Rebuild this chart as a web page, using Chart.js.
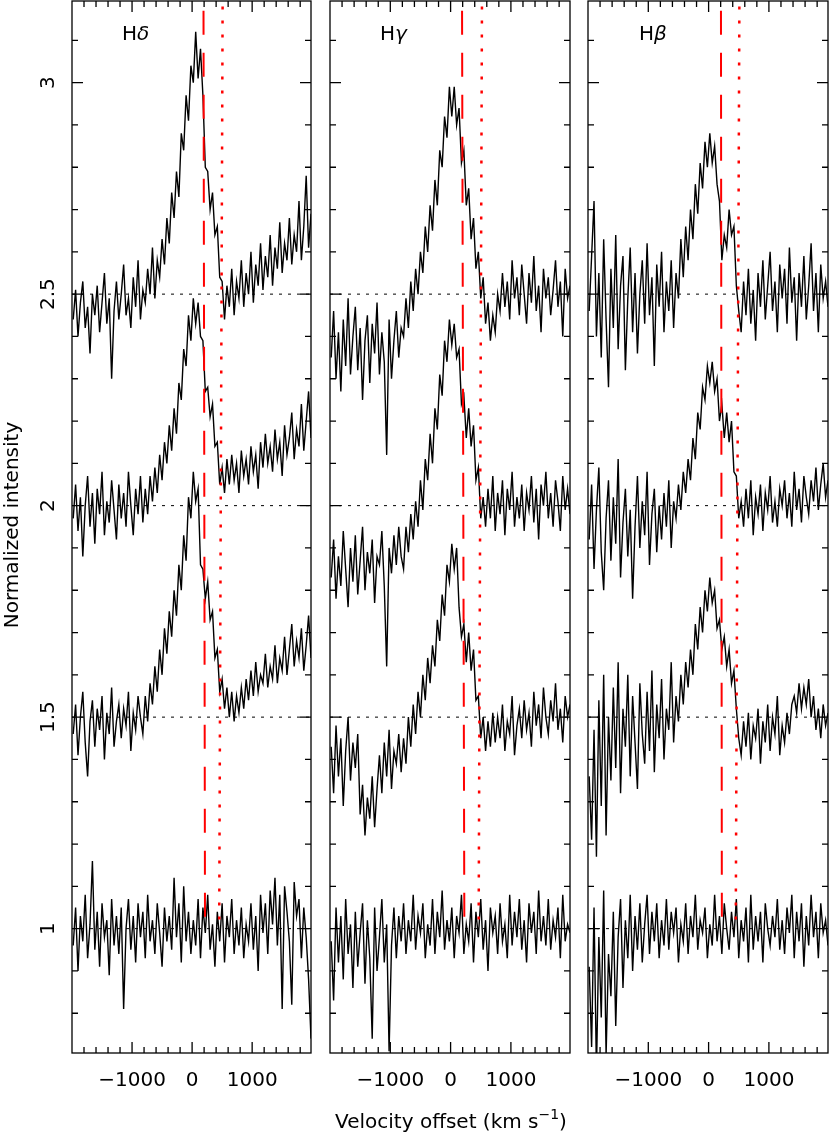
<!DOCTYPE html>
<html><head><meta charset="utf-8">
<script src="https://cdn.jsdelivr.net/npm/chart.js@4.4.0/dist/chart.umd.min.js"></script>
<style>
html,body{margin:0;padding:0;background:#fff;}
#wrap{position:relative;width:830px;height:1141px;}
#wrap canvas{position:absolute;left:0;top:0;}
</style></head><body>
<div id="wrap">
<canvas id="pd" width="830" height="1141"></canvas>
<canvas id="pg" width="830" height="1141"></canvas>
<canvas id="pb" width="830" height="1141"></canvas>
</div>
<script>
// velocity grid: one sample every 40 km/s starting at -1980
var velStart = -1980, velStep = 40;

// continuum levels of the offset spectra
var levels = [2.5, 2.0, 1.5, 1.0];

// tick values
var xMajor = [-1000, 0, 1000];
var xMinor = [-1800,-1600,-1400,-1200,-800,-600,-400,-200,200,400,600,800,1200,1400,1600,1800];
var yMajor = [1, 1.5, 2, 2.5, 3];
var yMinor = [0.8,0.9,1.1,1.2,1.3,1.4,1.6,1.7,1.8,1.9,2.1,2.2,2.3,2.4,2.6,2.7,2.8,2.9,3.1];

// red reference lines (velocity at top / bottom end), per panel d, g, b
var dashTop = [190, 190, 205], dashBottom = [215, 228, 220];
var dotTop = [508, 520, 510], dotBottom = [451, 465, 450];
var redTopY = 3.17, redBottomY = 1.0;

// H delta
var hd1 = [2.44,2.51,2.40,2.48,2.53,2.42,2.47,2.36,2.50,2.45,
           2.52,2.41,2.48,2.55,2.43,2.49,2.30,2.46,2.53,2.44,
           2.50,2.57,2.45,2.49,2.42,2.54,2.47,2.58,2.44,2.51,
           2.48,2.56,2.50,2.61,2.49,2.58,2.54,2.63,2.57,2.68,
           2.62,2.74,2.68,2.79,2.73,2.88,2.84,2.97,2.91,3.04,
           3.00,3.12,3.01,3.08,2.97,2.80,2.79,2.70,2.74,2.64,
           2.66,2.54,2.53,2.44,2.52,2.47,2.56,2.45,2.53,2.49,
           2.58,2.47,2.55,2.50,2.60,2.48,2.57,2.52,2.62,2.51,
           2.59,2.54,2.64,2.52,2.61,2.56,2.67,2.55,2.62,2.58,
           2.68,2.57,2.64,2.60,2.72,2.58,2.66,2.78,2.61,2.69];
var hd2 = [1.97,2.05,1.94,2.02,1.88,2.00,2.07,1.95,2.03,1.91,
           2.04,1.98,2.08,1.93,2.01,1.96,2.06,1.99,1.92,2.05,
           1.97,2.03,1.95,2.08,2.00,1.93,2.04,1.98,2.07,1.96,
           2.04,1.98,2.07,2.01,2.09,2.03,2.12,2.06,2.15,2.10,
           2.19,2.13,2.23,2.17,2.29,2.25,2.37,2.33,2.45,2.39,
           2.49,2.43,2.48,2.40,2.39,2.27,2.28,2.21,2.24,2.14,
           2.15,2.05,2.09,2.03,2.11,2.05,2.12,2.06,2.10,2.03,
           2.13,2.07,2.11,2.05,2.14,2.08,2.12,2.04,2.15,2.09,
           2.17,2.10,2.14,2.08,2.18,2.11,2.15,2.07,2.19,2.12,
           2.16,2.22,2.11,2.18,2.14,2.24,2.13,2.20,2.27,2.16];
var hd3 = [1.46,1.53,1.41,1.50,1.56,1.44,1.36,1.49,1.54,1.43,
           1.52,1.47,1.55,1.40,1.51,1.46,1.57,1.43,1.49,1.53,
           1.45,1.52,1.48,1.56,1.42,1.51,1.47,1.55,1.50,1.46,
           1.55,1.49,1.58,1.53,1.62,1.56,1.66,1.60,1.71,1.65,
           1.75,1.69,1.80,1.74,1.86,1.80,1.93,1.87,2.02,1.97,
           2.08,2.01,2.04,1.86,1.85,1.78,1.82,1.73,1.75,1.64,
           1.66,1.56,1.59,1.52,1.57,1.50,1.56,1.49,1.55,1.51,
           1.57,1.52,1.59,1.54,1.61,1.55,1.63,1.56,1.60,1.58,
           1.65,1.57,1.62,1.59,1.67,1.58,1.64,1.61,1.69,1.60,
           1.66,1.72,1.62,1.68,1.64,1.71,1.61,1.67,1.74,1.64];
var hd4 = [0.96,1.05,0.90,1.03,0.97,1.08,0.93,1.01,1.16,0.95,
           1.04,0.91,1.06,0.98,1.02,0.89,1.07,0.96,1.03,0.94,
           1.05,0.81,1.00,1.07,0.95,1.03,0.92,1.06,0.98,1.04,
           0.93,1.08,0.97,1.02,0.94,1.06,0.99,0.91,1.05,0.97,
           1.03,0.95,1.12,0.98,1.06,0.92,1.10,0.97,1.04,0.94,
           1.02,0.96,1.07,0.93,1.05,0.99,1.08,0.95,1.01,0.91,
           1.04,0.97,1.06,0.92,1.03,0.98,1.07,0.94,1.02,0.96,
           1.05,0.93,1.01,0.97,1.06,0.95,1.03,0.90,1.08,0.99,
           1.06,0.94,1.09,1.01,1.12,0.96,1.08,0.81,1.10,1.04,
           0.97,0.82,1.11,1.03,1.07,0.93,1.05,0.98,0.88,0.74];

// H gamma
var hg1 = [2.35,2.46,2.30,2.41,2.27,2.44,2.33,2.49,2.31,2.40,
           2.47,2.32,2.42,2.25,2.39,2.45,2.29,2.43,2.36,2.48,
           2.31,2.41,2.34,2.12,2.44,2.30,2.39,2.46,2.35,2.42,
           2.40,2.49,2.42,2.53,2.46,2.56,2.50,2.60,2.55,2.66,
           2.60,2.71,2.65,2.77,2.71,2.84,2.80,2.92,2.87,2.99,
           2.92,2.99,2.90,2.94,2.81,2.84,2.71,2.75,2.63,2.68,
           2.56,2.60,2.49,2.54,2.43,2.48,2.39,2.45,2.41,2.50,
           2.46,2.55,2.47,2.53,2.44,2.58,2.49,2.54,2.45,2.57,
           2.50,2.43,2.55,2.48,2.59,2.46,2.52,2.41,2.56,2.49,
           2.54,2.45,2.51,2.58,2.47,2.53,2.40,2.56,2.49,2.52];
var hg2 = [1.83,1.92,1.78,1.88,1.81,1.94,1.85,1.76,1.90,1.82,
           1.93,1.79,1.87,1.95,1.80,1.89,1.84,1.92,1.77,1.88,
           1.86,1.94,1.81,1.62,1.90,1.84,1.93,1.86,1.95,1.88,
           1.85,1.95,1.89,1.98,1.92,2.01,1.95,2.06,1.99,2.11,
           2.06,2.17,2.10,2.23,2.18,2.31,2.26,2.39,2.34,2.44,
           2.38,2.43,2.35,2.37,2.24,2.26,2.16,2.23,2.14,2.19,
           2.06,2.09,1.97,2.02,1.95,2.04,1.97,2.07,1.94,2.03,
           1.98,2.06,1.93,2.04,1.99,2.08,1.95,2.02,1.97,2.05,
           1.94,2.03,1.99,2.07,1.96,2.04,1.92,2.05,2.00,2.08,
           1.97,2.03,1.95,2.06,2.01,1.94,2.07,1.99,2.04,1.98];
var hg3 = [1.43,1.32,1.48,1.36,1.45,1.29,1.42,1.50,1.35,1.44,
           1.38,1.46,1.27,1.34,1.22,1.31,1.26,1.36,1.24,1.33,
           1.41,1.32,1.44,1.36,1.47,1.33,1.42,1.39,1.46,1.37,
           1.45,1.39,1.50,1.43,1.53,1.46,1.56,1.50,1.60,1.54,
           1.64,1.58,1.67,1.62,1.73,1.68,1.79,1.74,1.86,1.82,
           1.91,1.85,1.90,1.76,1.69,1.72,1.63,1.70,1.61,1.66,
           1.54,1.55,1.45,1.50,1.42,1.49,1.43,1.51,1.44,1.50,
           1.45,1.53,1.42,1.49,1.46,1.55,1.41,1.48,1.52,1.45,
           1.54,1.47,1.51,1.43,1.56,1.48,1.53,1.45,1.57,1.50,
           1.46,1.54,1.49,1.58,1.47,1.52,1.44,1.55,1.50,1.53];
var hg4 = [0.97,0.83,1.05,0.92,1.03,0.88,1.07,0.94,1.01,0.86,
           1.04,0.91,0.99,1.06,0.87,1.02,0.93,0.74,1.05,0.90,
           0.98,1.07,0.92,1.01,0.71,0.96,1.05,0.93,1.03,0.97,
           1.06,0.94,1.02,0.97,1.08,0.95,1.03,0.99,1.06,0.93,
           1.01,0.96,1.07,0.94,1.04,0.98,1.09,0.95,1.02,0.97,
           1.05,0.93,1.03,0.99,1.08,0.94,1.01,0.97,1.06,0.92,
           1.04,0.98,1.07,0.95,1.02,0.90,1.05,0.99,1.03,0.94,
           1.06,0.97,1.01,0.93,1.08,0.96,1.04,0.98,1.07,0.95,
           1.02,0.92,1.06,0.99,1.04,0.94,1.09,0.97,1.03,0.96,
           1.07,0.95,1.02,0.98,1.05,0.93,1.08,0.97,1.01,0.99];

// H beta
var hb1 = [2.46,2.59,2.72,2.40,2.55,2.35,2.63,2.44,2.28,2.56,
           2.42,2.64,2.37,2.52,2.59,2.32,2.49,2.61,2.41,2.55,
           2.36,2.50,2.58,2.43,2.62,2.45,2.54,2.33,2.57,2.47,
           2.60,2.41,2.53,2.46,2.58,2.42,2.55,2.49,2.63,2.54,
           2.66,2.58,2.70,2.63,2.76,2.69,2.81,2.75,2.86,2.80,
           2.88,2.81,2.85,2.76,2.72,2.58,2.64,2.61,2.70,2.64,
           2.66,2.52,2.46,2.41,2.53,2.45,2.56,2.43,2.51,2.39,
           2.55,2.47,2.58,2.44,2.52,2.60,2.46,2.53,2.41,2.57,
           2.49,2.56,2.43,2.61,2.48,2.54,2.39,2.55,2.47,2.59,
           2.44,2.52,2.62,2.46,2.55,2.41,2.57,2.49,2.53,2.47];
var hb2 = [1.92,2.05,1.85,1.99,2.09,1.89,1.80,1.97,2.06,1.87,
           2.02,1.91,2.11,1.83,1.96,2.04,1.88,1.99,1.78,1.95,
           2.07,1.90,2.01,1.93,2.08,1.86,1.98,2.04,1.89,2.00,
           1.92,2.03,1.95,2.06,1.90,2.01,1.97,2.05,1.99,2.08,
           2.03,2.11,2.06,2.16,2.11,2.22,2.18,2.28,2.25,2.33,
           2.29,2.34,2.27,2.30,2.20,2.24,2.16,2.22,2.15,2.20,
           2.08,2.07,1.97,2.01,1.95,2.04,1.97,2.06,1.93,2.02,
           1.98,2.05,1.94,2.03,1.99,2.07,1.96,2.01,1.95,2.04,
           2.00,2.06,1.97,2.03,1.95,2.08,1.99,2.04,1.96,2.07,
           2.02,1.98,2.06,2.01,2.09,1.99,2.05,2.10,2.02,2.06];
var hb3 = [1.36,1.21,1.47,1.17,1.54,1.29,1.60,1.22,1.50,1.35,
           1.57,1.38,1.63,1.32,1.52,1.43,1.60,1.36,1.55,1.44,
           1.33,1.58,1.46,1.39,1.56,1.42,1.61,1.37,1.53,1.45,
           1.59,1.40,1.52,1.47,1.63,1.44,1.55,1.49,1.60,1.53,
           1.63,1.57,1.66,1.60,1.72,1.66,1.76,1.70,1.80,1.75,
           1.83,1.77,1.80,1.71,1.73,1.66,1.69,1.62,1.66,1.58,
           1.61,1.52,1.45,1.41,1.49,1.43,1.51,1.40,1.48,1.45,
           1.52,1.39,1.49,1.44,1.53,1.42,1.50,1.46,1.55,1.41,
           1.48,1.44,1.51,1.46,1.53,1.55,1.51,1.58,1.52,1.57,
           1.53,1.59,1.50,1.55,1.47,1.52,1.45,1.53,1.48,1.51];
var hb4 = [0.91,0.72,1.05,0.66,0.98,0.79,1.09,0.70,0.94,0.84,
           1.04,0.77,0.98,1.07,0.86,1.02,0.93,1.08,0.90,1.03,
           0.95,1.06,0.92,1.01,1.08,0.94,1.04,0.97,1.06,0.93,
           1.02,0.96,1.07,0.95,1.04,0.99,1.05,0.92,1.01,0.97,
           1.06,0.94,1.03,0.98,1.08,0.95,1.02,0.99,1.05,0.93,
           1.01,0.96,1.08,0.97,1.03,0.94,1.06,1.00,0.95,1.04,
           0.98,1.07,0.93,1.02,0.97,1.05,0.92,1.08,0.95,1.03,
           0.97,1.04,0.92,1.06,1.00,0.96,1.03,0.98,1.07,0.95,
           1.02,0.94,1.05,0.99,1.08,0.93,1.04,0.97,1.06,0.91,
           1.03,0.96,1.08,0.98,1.04,0.93,1.06,0.99,1.02,0.96];

var FONT = 'DejaVu Sans';
var xMin = -2000, xMax = 1980, yMin = 0.706, yMax = 3.193;

function pts(arr) {
  return arr.map(function (v, i) { return { x: velStart + i * velStep, y: v }; });
}

function capText(ctx, parts, x, y, align) {
  // parts: [text, font, dy]
  var w = 0;
  parts.forEach(function (p) { ctx.font = p[1]; w += ctx.measureText(p[0]).width; });
  var cx = align === 'center' ? x - w / 2 : x;
  parts.forEach(function (p) {
    ctx.font = p[1];
    ctx.fillText(p[0], cx, y + (p[2] || 0));
    cx += ctx.measureText(p[0]).width;
  });
}

var framePlugin = {
  id: 'frame',
  afterDraw: function (chart) {
    var o = chart.options.plugins.frame;
    var ctx = chart.ctx, a = chart.chartArea, xs = chart.scales.x, ys = chart.scales.y;
    ctx.save();
    ctx.strokeStyle = '#000';
    ctx.lineWidth = 1.3;
    ctx.strokeRect(a.left, a.top, a.right - a.left, a.bottom - a.top);
    ctx.beginPath();
    function xt(v, len) {
      var p = xs.getPixelForValue(v);
      ctx.moveTo(p, a.bottom); ctx.lineTo(p, a.bottom - len);
      ctx.moveTo(p, a.top); ctx.lineTo(p, a.top + len);
    }
    function yt(v, len) {
      var p = ys.getPixelForValue(v);
      ctx.moveTo(a.left, p); ctx.lineTo(a.left + len, p);
      ctx.moveTo(a.right, p); ctx.lineTo(a.right - len, p);
    }
    xMajor.forEach(function (v) { xt(v, 11); });
    xMinor.forEach(function (v) { xt(v, 6); });
    yMajor.forEach(function (v) { yt(v, 11); });
    yMinor.forEach(function (v) { yt(v, 6); });
    ctx.stroke();

    ctx.fillStyle = '#000';
    ctx.textBaseline = 'alphabetic';
    ctx.font = '20px ' + FONT;
    ctx.textAlign = 'center';
    xMajor.forEach(function (v) {
      var s = v < 0 ? '\u2212' + Math.abs(v) : String(v);
      ctx.fillText(s, xs.getPixelForValue(v), 1086);
    });

    // panel name
    ctx.textAlign = 'left';
    capText(ctx, [['H', '20px ' + FONT], [o.greek, 'italic 20px ' + FONT]], o.nameX, 40, 'left');

    if (o.showY) {
      yMajor.forEach(function (v) {
        ctx.save();
        ctx.translate(54, ys.getPixelForValue(v));
        ctx.rotate(-Math.PI / 2);
        ctx.textAlign = 'center';
        ctx.font = '20px ' + FONT;
        ctx.fillText(String(v), 0, 0);
        ctx.restore();
      });
      ctx.save();
      ctx.translate(18, 525);
      ctx.rotate(-Math.PI / 2);
      ctx.textAlign = 'left';
      capText(ctx, [['Normalized intensity', '20px ' + FONT]], 0, 0, 'center');
      ctx.restore();
    }
    if (o.showTitle) {
      ctx.textAlign = 'left';
      capText(ctx, [
        ['Velocity offset (km s', '20px ' + FONT],
        ['\u22121', '14px ' + FONT, -9],
        [')', '20px ' + FONT]
      ], 451, 1128, 'center');
    }
    ctx.restore();
  }
};

function makePanel(id, left, right, series, k, greek, nameX, showY, showTitle) {
  var ds = [];
  levels.forEach(function (lev) {
    ds.push({ data: [{ x: xMin, y: lev }, { x: xMax, y: lev }], borderColor: '#000',
      borderWidth: 1, borderDash: [3, 6], pointRadius: 0, order: 5 });
  });
  series.forEach(function (s) {
    ds.push({ data: pts(s), borderColor: '#000', borderWidth: 1.4, pointRadius: 0, order: 3 });
  });
  ds.push({ data: [{ x: dashTop[k], y: redTopY }, { x: dashBottom[k], y: redBottomY }],
    borderColor: 'rgb(255,0,0)', borderWidth: 2, borderDash: [24, 18], pointRadius: 0, order: 1 });
  ds.push({ data: [{ x: dotTop[k], y: redTopY + 0.01 }, { x: dotBottom[k], y: redBottomY }],
    borderColor: 'rgb(255,0,0)', borderWidth: 2.5, borderDash: [3, 11], pointRadius: 0, order: 1 });

  return new Chart(document.getElementById(id), {
    type: 'line',
    data: { datasets: ds },
    options: {
      responsive: false,
      animation: false,
      events: [],
      layout: { padding: { left: left, right: 830 - right, top: 1, bottom: 1141 - 1053 } },
      scales: {
        x: { type: 'linear', min: xMin, max: xMax, display: false },
        y: { type: 'linear', min: yMin, max: yMax, display: false }
      },
      plugins: {
        legend: { display: false },
        tooltip: { enabled: false },
        frame: { greek: greek, nameX: nameX, showY: showY, showTitle: showTitle }
      }
    },
    plugins: [framePlugin]
  });
}

makePanel('pd', 72, 311, [hd1, hd2, hd3, hd4], 0, '\u03b4', 122, true, false);
makePanel('pg', 330, 570, [hg1, hg2, hg3, hg4], 1, '\u03b3', 380, false, true);
makePanel('pb', 588, 828, [hb1, hb2, hb3, hb4], 2, '\u03b2', 639, false, false);
</script>
</body></html>
